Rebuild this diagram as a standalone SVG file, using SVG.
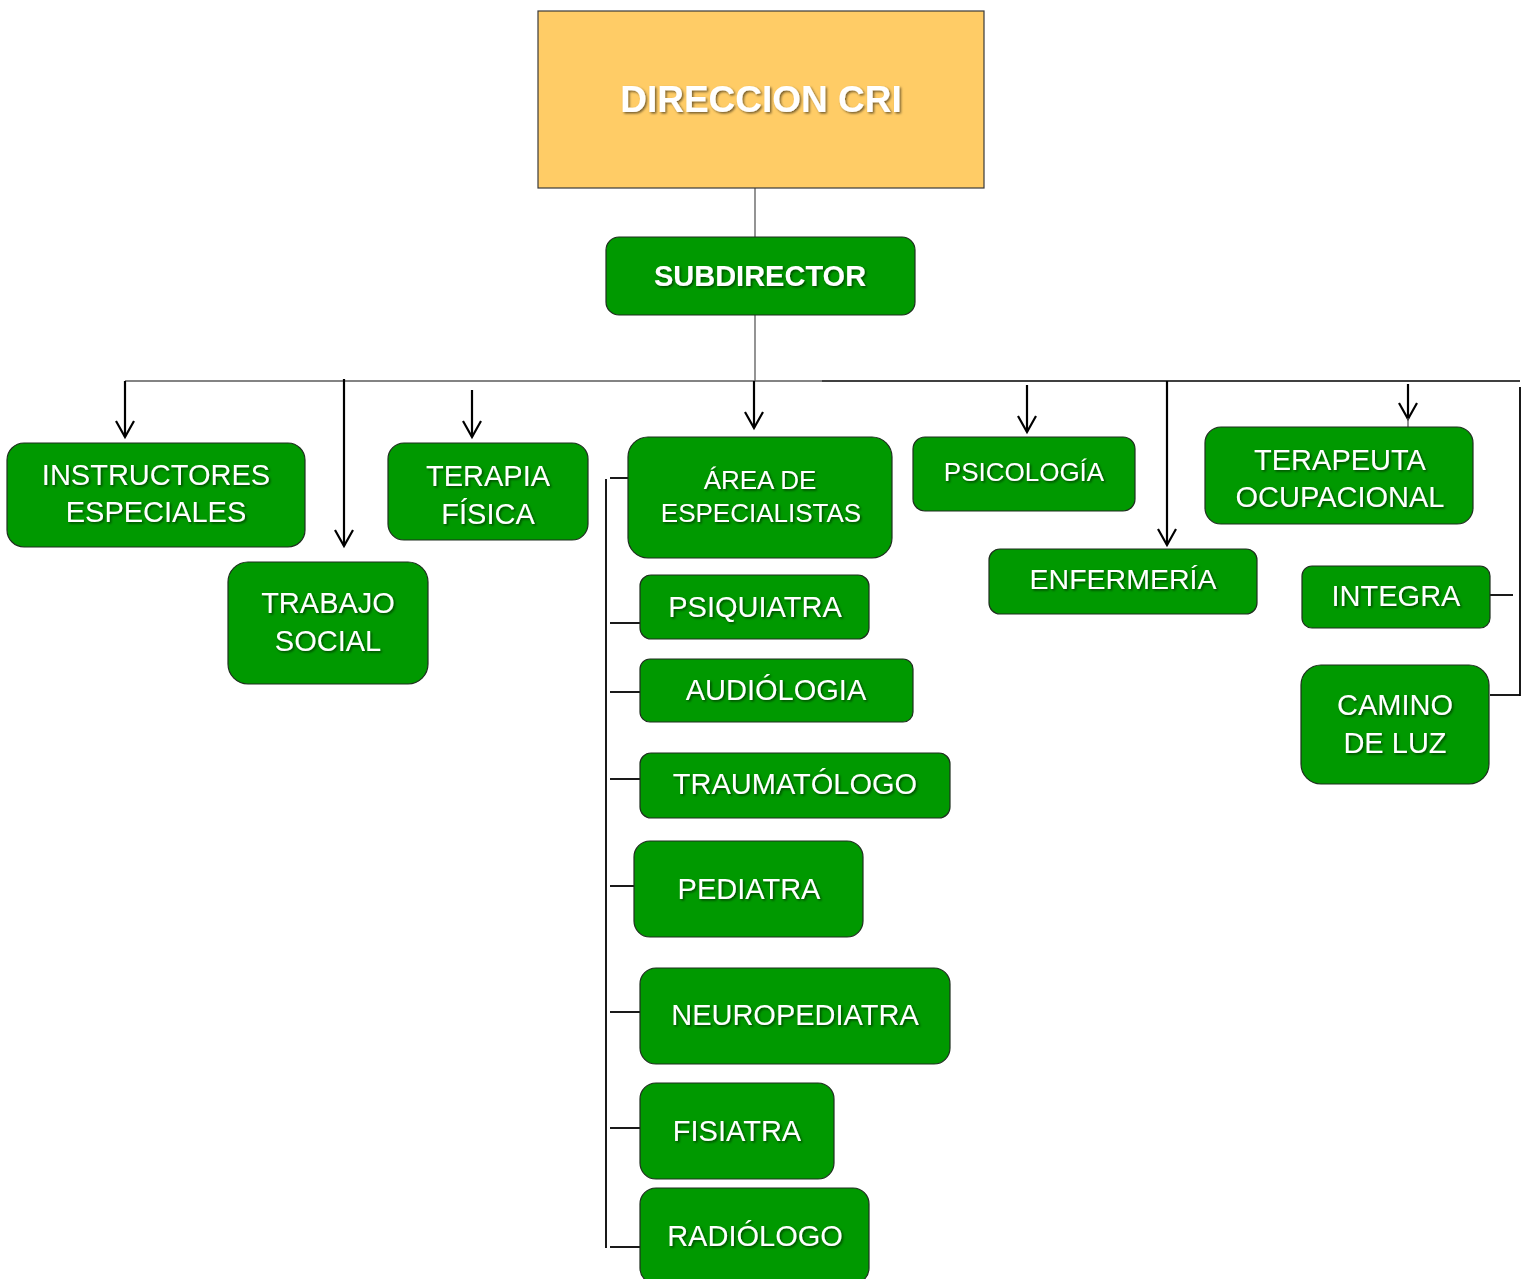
<svg xmlns="http://www.w3.org/2000/svg" width="1527" height="1279" viewBox="0 0 1527 1279">
<defs>
<filter id="ts" x="-10%" y="-30%" width="120%" height="160%">
<feDropShadow dx="1.5" dy="1.5" stdDeviation="0.9" flood-color="#000" flood-opacity="0.55"/>
</filter>
<marker id="ah" markerUnits="userSpaceOnUse" viewBox="-20 -11 22 22" markerWidth="22" markerHeight="22" refX="0" refY="0" orient="auto" overflow="visible">
<path d="M-16,-9 L0,0 L-16,9" fill="none" stroke="#000" stroke-width="2.2"/>
</marker>
</defs>
<style>
.box{fill:#009900;stroke:#1f2f1f;stroke-width:1.2}
.top{fill:#FFCC66;stroke:#3a3a3a;stroke-width:1.2}
text{font-family:"Liberation Sans",Arial,sans-serif;fill:#fff;text-anchor:middle;filter:url(#ts)}
.t{font-size:29px}
.s{font-size:26px}
.b{font-weight:bold}
.arr{stroke:#000;stroke-width:2.2;fill:none;marker-end:url(#ah)}
.ln{stroke:#000;stroke-width:1.8;fill:none}
.gl{stroke:#5a5a5a;stroke-width:1.3;fill:none}
</style>
<rect width="1527" height="1279" fill="#fff"/>
<g id="connectors">
<line class="gl" x1="755" y1="188" x2="755" y2="237"/>
<line class="gl" x1="755" y1="315" x2="755" y2="381"/>
<line class="gl" x1="125" y1="381" x2="822" y2="381"/>
<line stroke="#000" stroke-width="1.3" x1="822" y1="381" x2="1520" y2="381"/>
<line class="arr" x1="125" y1="381" x2="125" y2="437"/>
<line class="arr" x1="344" y1="379" x2="344" y2="546"/>
<line class="arr" x1="472" y1="390" x2="472" y2="437"/>
<line class="arr" x1="754" y1="381" x2="754" y2="428"/>
<line class="arr" x1="1027" y1="385" x2="1027" y2="432"/>
<line class="arr" x1="1167" y1="381" x2="1167" y2="545"/>
<line class="arr" x1="1408" y1="384" x2="1408" y2="419"/>
<line class="gl" x1="1408" y1="418" x2="1408" y2="427"/>
<line class="ln" x1="1520" y1="387" x2="1520" y2="696"/>
<line class="ln" x1="1490" y1="595" x2="1513" y2="595"/>
<line class="ln" x1="1490" y1="695" x2="1520" y2="695"/>
<line class="ln" x1="606" y1="479" x2="606" y2="1248"/>
<line class="ln" x1="610" y1="478" x2="628" y2="478"/>
<line class="ln" x1="610" y1="623" x2="640" y2="623"/>
<line class="ln" x1="610" y1="692" x2="640" y2="692"/>
<line class="ln" x1="610" y1="779" x2="640" y2="779"/>
<line class="ln" x1="610" y1="886" x2="634" y2="886"/>
<line class="ln" x1="610" y1="1012" x2="640" y2="1012"/>
<line class="ln" x1="610" y1="1128" x2="640" y2="1128"/>
<line class="ln" x1="610" y1="1247" x2="640" y2="1247"/>
</g>
<g id="direccion"><rect class="top" x="538" y="11" width="446" height="177"/><text class="b" x="761" y="112" font-size="37">DIRECCION CRI</text></g>
<g id="subdirector"><rect class="box" x="606" y="237" width="309" height="78" rx="13"/><text class="t b" x="760" y="286">SUBDIRECTOR</text></g>
<g id="instructores"><rect class="box" x="7" y="443" width="298" height="104" rx="17"/><text class="t" x="156" y="485">INSTRUCTORES</text><text class="t" x="156" y="522">ESPECIALES</text></g>
<g id="trabajo-social"><rect class="box" x="228" y="562" width="200" height="122" rx="20"/><text class="t" x="328" y="613">TRABAJO</text><text class="t" x="328" y="651">SOCIAL</text></g>
<g id="terapia-fisica"><rect class="box" x="388" y="443" width="200" height="97" rx="16"/><text class="t" x="488" y="486">TERAPIA</text><text class="t" x="488" y="524">FÍSICA</text></g>
<g id="area-especialistas"><rect class="box" x="628" y="437" width="264" height="121" rx="20"/><text class="s" x="760" y="489">ÁREA DE</text><text class="s" x="761" y="522">ESPECIALISTAS</text></g>
<g id="psicologia"><rect class="box" x="913" y="437" width="222" height="74" rx="12"/><text class="s" x="1024" y="481">PSICOLOGÍA</text></g>
<g id="enfermeria"><rect class="box" x="989" y="549" width="268" height="65" rx="11"/><text x="1123" y="589" font-size="28.5">ENFERMERÍA</text></g>
<g id="terapeuta-ocupacional"><rect class="box" x="1205" y="427" width="268" height="97" rx="16"/><text class="t" x="1340" y="470">TERAPEUTA</text><text class="t" x="1340" y="507">OCUPACIONAL</text></g>
<g id="integra"><rect class="box" x="1302" y="566" width="188" height="62" rx="10"/><text class="t" x="1396" y="606">INTEGRA</text></g>
<g id="camino-de-luz"><rect class="box" x="1301" y="665" width="188" height="119" rx="20"/><text class="t" x="1395" y="715">CAMINO</text><text class="t" x="1395" y="753">DE LUZ</text></g>
<g id="psiquiatra"><rect class="box" x="640" y="575" width="229" height="64" rx="11"/><text class="t" x="755" y="617">PSIQUIATRA</text></g>
<g id="audiologia"><rect class="box" x="640" y="659" width="273" height="63" rx="10"/><text class="t" x="776" y="700">AUDIÓLOGIA</text></g>
<g id="traumatologo"><rect class="box" x="640" y="753" width="310" height="65" rx="11"/><text class="t" x="795" y="794">TRAUMATÓLOGO</text></g>
<g id="pediatra"><rect class="box" x="634" y="841" width="229" height="96" rx="16"/><text class="t" x="749" y="899">PEDIATRA</text></g>
<g id="neuropediatra"><rect class="box" x="640" y="968" width="310" height="96" rx="16"/><text class="t" x="795" y="1025">NEUROPEDIATRA</text></g>
<g id="fisiatra"><rect class="box" x="640" y="1083" width="194" height="96" rx="16"/><text class="t" x="737" y="1141">FISIATRA</text></g>
<g id="radiologo"><rect class="box" x="640" y="1188" width="229" height="96" rx="16"/><text class="t" x="755" y="1246">RADIÓLOGO</text></g>
</svg>
